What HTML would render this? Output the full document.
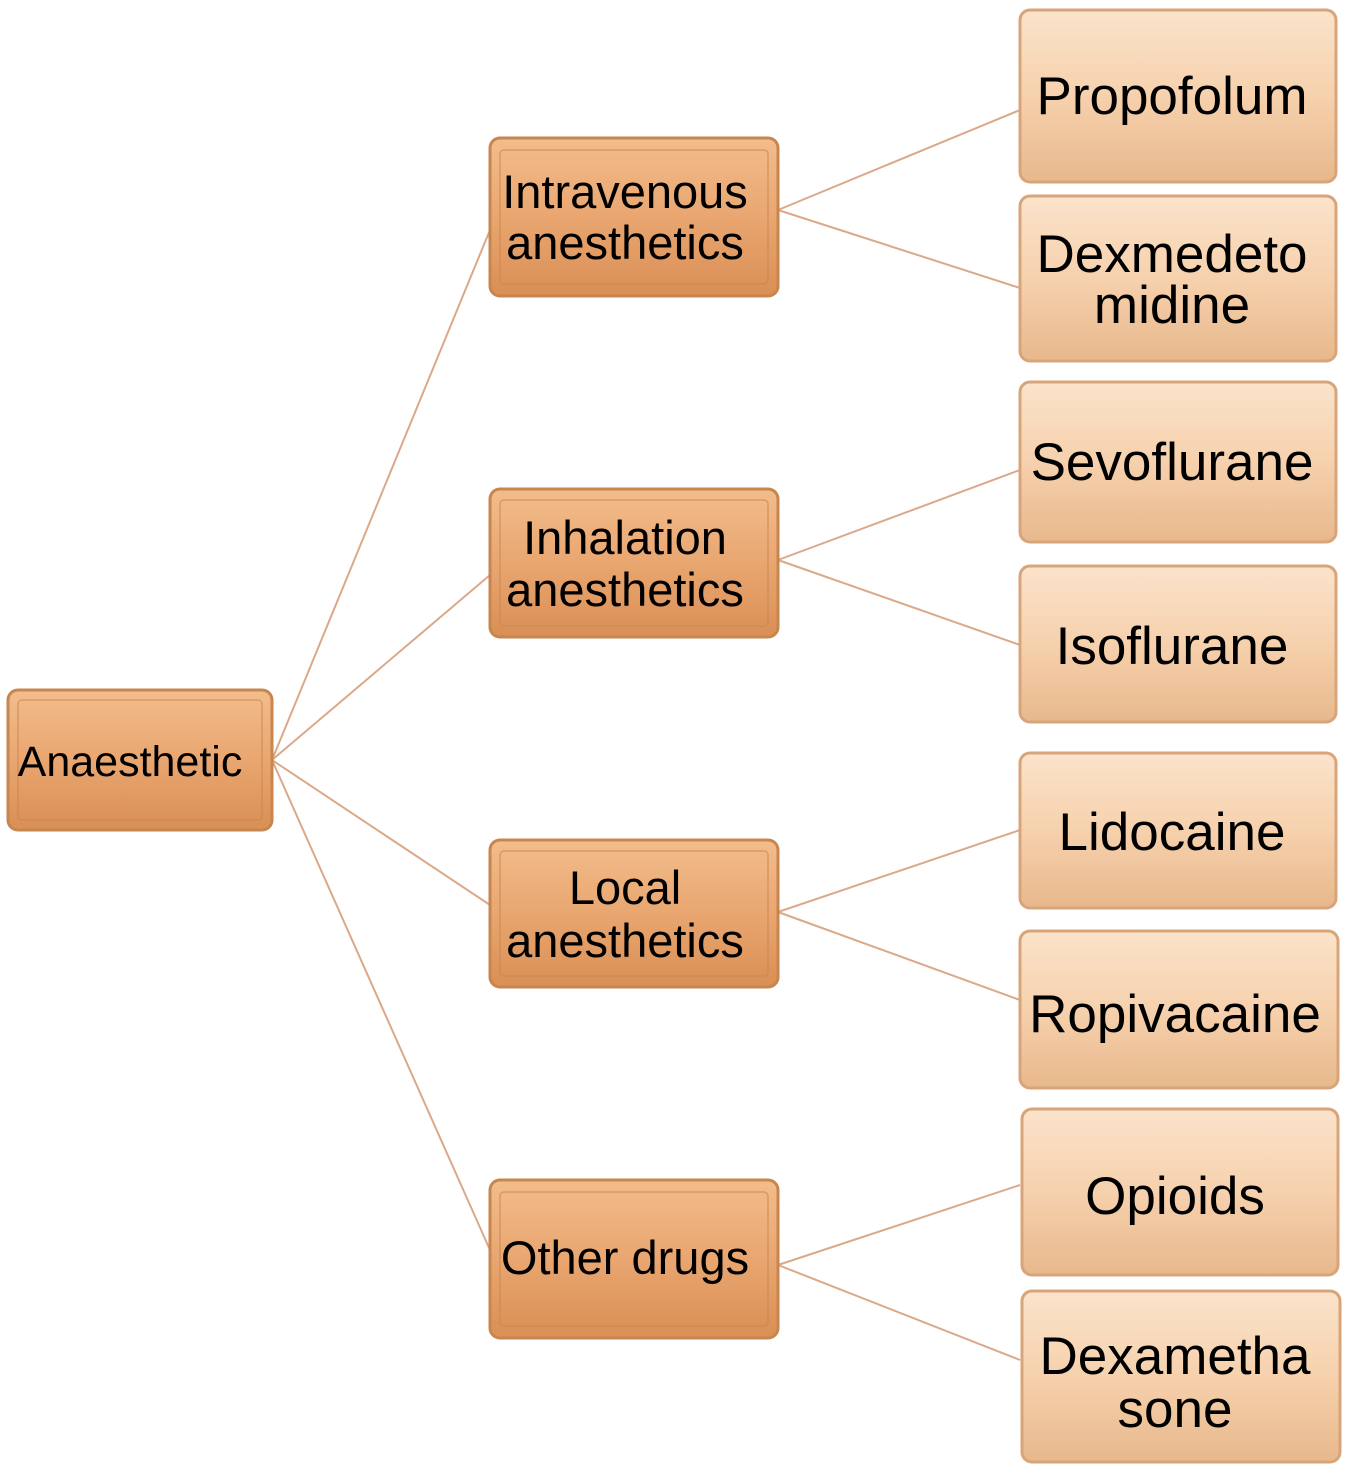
<!DOCTYPE html>
<html><head><style>
body{margin:0;background:#fff;}
svg text{font-family:"Liberation Sans",sans-serif;fill:#000;text-anchor:middle;}
</style></head><body>
<svg width="1351" height="1472" viewBox="0 0 1351 1472" xmlns="http://www.w3.org/2000/svg">
<defs>
<linearGradient id="gm" x1="0" y1="0" x2="0" y2="1"><stop offset="0" stop-color="#f2bd8c"/><stop offset="0.5" stop-color="#e9a670"/><stop offset="1" stop-color="#d98f55"/></linearGradient>
<linearGradient id="gl" x1="0" y1="0" x2="0" y2="1"><stop offset="0" stop-color="#fbe3cb"/><stop offset="0.5" stop-color="#f6d1ad"/><stop offset="1" stop-color="#e8b88c"/></linearGradient>
</defs>
<g stroke="#dba88a" stroke-width="2" fill="none">
<line x1="272" y1="760" x2="490" y2="230"/>
<line x1="272" y1="760" x2="490" y2="575"/>
<line x1="272" y1="760" x2="490" y2="905"/>
<line x1="272" y1="760" x2="490" y2="1250"/>
<line x1="778" y1="210" x2="1020" y2="110"/>
<line x1="778" y1="210" x2="1020" y2="288"/>
<line x1="778" y1="560" x2="1020" y2="470"/>
<line x1="778" y1="560" x2="1020" y2="645"/>
<line x1="778" y1="912" x2="1020" y2="830"/>
<line x1="778" y1="912" x2="1020" y2="1000"/>
<line x1="778" y1="1265" x2="1020" y2="1185"/>
<line x1="778" y1="1265" x2="1020" y2="1360"/>
</g>
<g stroke="#c8864f" stroke-width="3">
<rect x="8" y="690" width="264" height="140" rx="10" fill="url(#gm)"/>
<rect x="490" y="138" width="288" height="158" rx="10" fill="url(#gm)"/>
<rect x="490" y="489" width="288" height="148" rx="10" fill="url(#gm)"/>
<rect x="490" y="840" width="288" height="147" rx="10" fill="url(#gm)"/>
<rect x="490" y="1180" width="288" height="158" rx="10" fill="url(#gm)"/>
</g>
<g stroke="#c8864f" stroke-width="1.5" fill="none" opacity="0.6">
<rect x="18" y="700" width="244" height="120" rx="4"/>
<rect x="500" y="150" width="268" height="134" rx="4"/>
<rect x="500" y="500" width="268" height="126" rx="4"/>
<rect x="500" y="851" width="268" height="125" rx="4"/>
<rect x="500" y="1192" width="268" height="134" rx="4"/>
</g>
<g stroke="#d8a57a" stroke-width="3">
<rect x="1020" y="10" width="316" height="172" rx="10" fill="url(#gl)"/>
<rect x="1020" y="196" width="316" height="165" rx="10" fill="url(#gl)"/>
<rect x="1020" y="382" width="316" height="160" rx="10" fill="url(#gl)"/>
<rect x="1020" y="566" width="316" height="156" rx="10" fill="url(#gl)"/>
<rect x="1020" y="753" width="316" height="155" rx="10" fill="url(#gl)"/>
<rect x="1020" y="931" width="318" height="157" rx="10" fill="url(#gl)"/>
<rect x="1022" y="1109" width="316" height="166" rx="10" fill="url(#gl)"/>
<rect x="1022" y="1291" width="318" height="171" rx="10" fill="url(#gl)"/>
</g>
<text x="130" y="776" font-size="43">Anaesthetic</text>
<text x="625" y="208" font-size="47">Intravenous</text>
<text x="625" y="259" font-size="47">anesthetics</text>
<text x="625" y="554" font-size="47">Inhalation</text>
<text x="625" y="606" font-size="47">anesthetics</text>
<text x="625" y="904" font-size="47">Local</text>
<text x="625" y="957" font-size="47">anesthetics</text>
<text x="625" y="1274" font-size="47">Other drugs</text>
<text x="1172" y="114" font-size="53">Propofolum</text>
<text x="1172" y="272" font-size="53">Dexmedeto</text>
<text x="1172" y="323" font-size="53">midine</text>
<text x="1172" y="480" font-size="53">Sevoflurane</text>
<text x="1172" y="664" font-size="53">Isoflurane</text>
<text x="1172" y="850" font-size="53">Lidocaine</text>
<text x="1175" y="1032" font-size="53">Ropivacaine</text>
<text x="1175" y="1214" font-size="53">Opioids</text>
<text x="1175" y="1374" font-size="53">Dexametha</text>
<text x="1175" y="1427" font-size="53">sone</text>
</svg>
</body></html>
